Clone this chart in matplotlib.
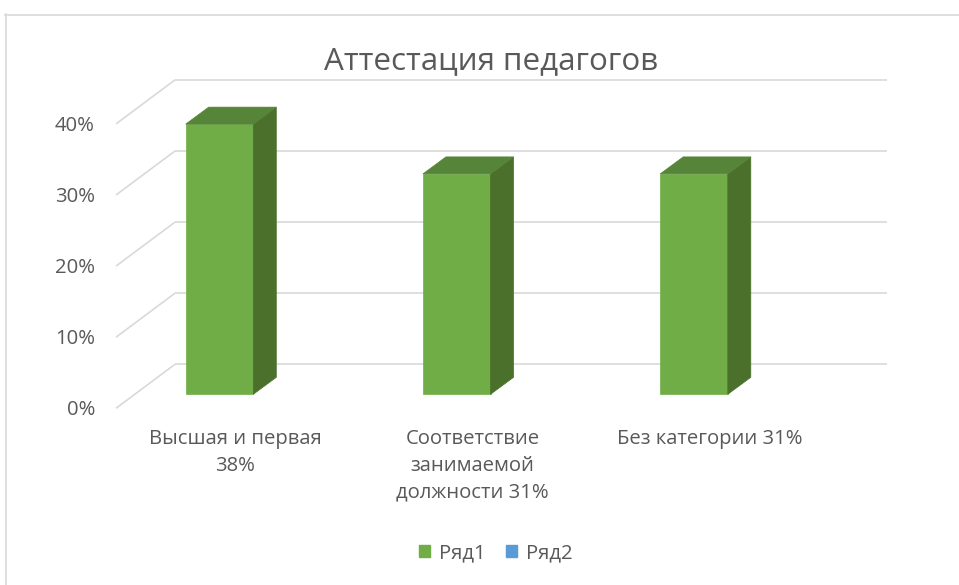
import matplotlib
matplotlib.use("Agg")
import matplotlib.pyplot as plt
from matplotlib.patches import Polygon, Patch
from matplotlib.lines import Line2D

# ---- data ----
title = "Аттестация педагогов"
categories = ["Высшая и первая\n38%", "Соответствие\nзанимаемой\nдолжности 31%", "Без категории 31%"]
series1_name = "Ряд1"
series1_values = [0.38, 0.31, 0.31]
series2_name = "Ряд2"
series2_values = []  # empty series (legend only)
y_ticks = [0.0, 0.1, 0.2, 0.3, 0.4]
y_tick_labels = ["0%", "10%", "20%", "30%", "40%"]

# ---- style ----
GREEN_FRONT = "#70AD47"
GREEN_TOP = "#568438"
GREEN_SIDE = "#4A702B"
BLUE = "#5B9BD5"
GRID = "#D9D9D9"
TEXT = "#595959"
FONT = ["Open Sans", "DejaVu Sans"]
plt.rcParams["font.family"] = FONT
FS = 14.6

W, H = 959, 585
fig = plt.figure(figsize=(W / 100, H / 100), dpi=100)
ax = fig.add_axes([0, 0, 1, 1])
ax.set_axis_off()

# pixel scale of the projection (layout)
PXC = 237.25   # px per category
PXU = 711.0    # px per value unit (1.0 = 100%)
X0 = 219.5     # px of first category centre on bar-front plane
Y0 = 394.3     # px of value 0 on bar-front plane
ax.set_xlim((0 - X0) / PXC, (W - X0) / PXC)
ax.set_ylim((Y0 - H) / PXU, Y0 / PXU)

def off(dx_px, dy_px_up):
    return dx_px / PXC, dy_px_up / PXU

half_w = 33.8 / PXC
side_dx, side_dy = off(23, 17)
back_dx, back_dy = off(40, 30)
front_dx, front_dy = off(-19, -14)
wall_right = (887 - X0) / PXC - back_dx
xb = (175 - 40 - X0) / PXC  # left edge of back wall, projected on bar-front plane

# gridlines: back wall + side wall diagonals
for t, lab in zip(y_ticks, y_tick_labels):
    ax.plot([xb + back_dx, wall_right + back_dx], [t + back_dy, t + back_dy],
            color=GRID, lw=1.2, zorder=1, solid_capstyle="butt")
    ax.plot([xb + front_dx, xb + back_dx], [t + front_dy, t + back_dy],
            color=GRID, lw=1.2, zorder=1, solid_capstyle="butt")
    ax.text(xb + front_dx - 21 / PXC, t + front_dy - 2 / PXU, lab,
            ha="right", va="center", fontsize=FS, color=TEXT)

# bars
for i, v in enumerate(series1_values):
    l, r = i - half_w, i + half_w
    front = Polygon([(l, 0), (r, 0), (r, v), (l, v)], closed=True,
                    facecolor=GREEN_FRONT, edgecolor=GREEN_FRONT, lw=0.5, zorder=3)
    side = Polygon([(r, 0), (r + side_dx, side_dy), (r + side_dx, v + side_dy), (r, v)],
                   closed=True, facecolor=GREEN_SIDE, edgecolor=GREEN_SIDE, lw=0.5, zorder=3)
    top = Polygon([(l, v), (r, v), (r + side_dx, v + side_dy), (l + side_dx, v + side_dy)],
                  closed=True, facecolor=GREEN_TOP, edgecolor=GREEN_TOP, lw=0.5, zorder=3)
    for p in (front, side, top):
        ax.add_patch(p)

# category labels
for i, lab in enumerate(categories):
    ax.text(i + 16 / PXC, (Y0 - 429) / PXU, lab, ha="center", va="top",
            fontsize=FS, color=TEXT, linespacing=1.45, multialignment="center")

# title
fig.text(491 / W, 1 - 61 / H, title, ha="center", va="center", fontsize=22.6, color=TEXT)

# legend
handles = [Patch(facecolor=GREEN_FRONT, edgecolor=GREEN_FRONT),
           Patch(facecolor=BLUE, edgecolor=BLUE)]
leg = fig.legend(handles, [series1_name, series2_name], loc="center",
                 bbox_to_anchor=(496 / W, 1 - 553 / H), bbox_transform=fig.transFigure,
                 ncol=2, frameon=False, fontsize=FS, handlelength=0.55, handleheight=0.55,
                 handletextpad=0.45, columnspacing=1.0, borderpad=0)
for t in leg.get_texts():
    t.set_color(TEXT)

# chart area border
fig.add_artist(Line2D([5.5 / W, 5.5 / W], [0, 1 - 14 / H], transform=fig.transFigure,
                      color=GRID, lw=1.2))
fig.add_artist(Line2D([5 / W, 1], [1 - 14.5 / H, 1 - 14.5 / H], transform=fig.transFigure,
                      color=GRID, lw=1.2))

fig.savefig("out.png", dpi=100, facecolor="white")
